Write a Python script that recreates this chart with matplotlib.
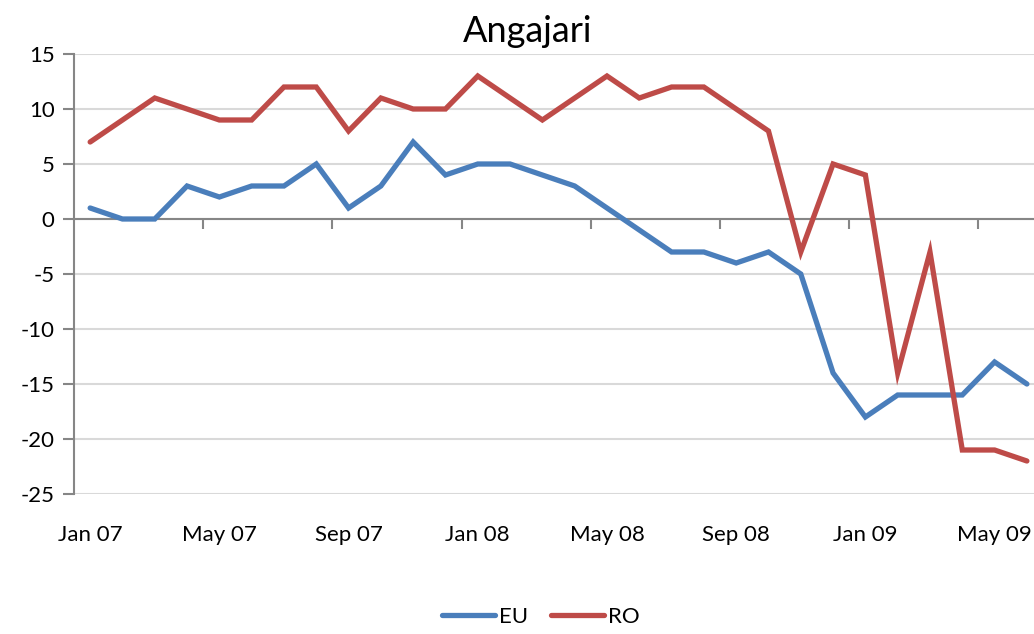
import matplotlib.pyplot as plt
import matplotlib.transforms as mtransforms

months = ['Jan 07', 'Feb 07', 'Mar 07', 'Apr 07', 'May 07', 'Jun 07', 'Jul 07', 'Aug 07',
          'Sep 07', 'Oct 07', 'Nov 07', 'Dec 07', 'Jan 08', 'Feb 08', 'Mar 08', 'Apr 08',
          'May 08', 'Jun 08', 'Jul 08', 'Aug 08', 'Sep 08', 'Oct 08', 'Nov 08', 'Dec 08',
          'Jan 09', 'Feb 09', 'Mar 09', 'Apr 09', 'May 09', 'Jun 09']
eu = [1, 0, 0, 3, 2, 3, 3, 5, 1, 3, 7, 4, 5, 5, 4, 3, 1, -1, -3, -3, -4, -3, -5, -14,
      -18, -16, -16, -16, -13, -15]
ro = [7, 9, 11, 10, 9, 9, 12, 12, 8, 11, 10, 10, 13, 11, 9, 11, 13, 11, 12, 12, 10, 8, -3, 5,
      4, -14, -3, -21, -21, -22]
yticks = [-25, -20, -15, -10, -5, 0, 5, 10, 15]

plt.rcParams['font.family'] = ['Lato', 'DejaVu Sans']

fig = plt.figure(figsize=(10.34, 6.34), dpi=100)
ax = fig.add_axes([74 / 1034, 140 / 634, 960 / 1034, 440 / 634])

x = list(range(len(months)))
ax.plot(x, eu, color='#4A7EBB', lw=3.8, solid_capstyle='round', solid_joinstyle='miter', label='EU')
ax.plot(x, ro, color='#BE4B48', lw=3.8, solid_capstyle='round', solid_joinstyle='miter', label='RO')

ax.set_xlim(-0.5, 29.22)
ax.set_ylim(-25, 15)
ax.set_yticks(yticks)
ax.set_yticklabels([str(v) for v in yticks], fontsize=16)
ax.yaxis.grid(True, color='#D9D9D9', lw=1.5)
ax.set_axisbelow(True)

for s in ['top', 'right']:
    ax.spines[s].set_visible(False)
ax.spines['left'].set_color('#868686')
ax.spines['left'].set_linewidth(1.5)
ax.spines['bottom'].set_position(('data', 0))
ax.spines['bottom'].set_color('#868686')
ax.spines['bottom'].set_linewidth(1.5)
ax.spines['bottom'].set_zorder(1)

ax.tick_params(axis='y', length=8, width=1.5, color='#868686', pad=6)
ax.set_xticks([3.5 + 4 * k for k in range(7)])
ax.set_xticklabels([])
ax.tick_params(axis='x', length=7, width=1.5, color='#868686', direction='out')

trans = mtransforms.blended_transform_factory(ax.transData, ax.transAxes)
for i in range(0, len(months), 4):
    ax.text(i, -0.094, months[i], transform=trans, ha='center', va='center', fontsize=16)

fig.text(0.51, 0.95, 'Angajari', ha='center', va='center', fontsize=26)

fig.legend(loc='lower center', ncol=2, frameon=False, fontsize=16,
           bbox_to_anchor=(0.523, -0.02), handlelength=2.4, handletextpad=0.2, columnspacing=1.0)

fig.savefig('out.png', dpi=100)
